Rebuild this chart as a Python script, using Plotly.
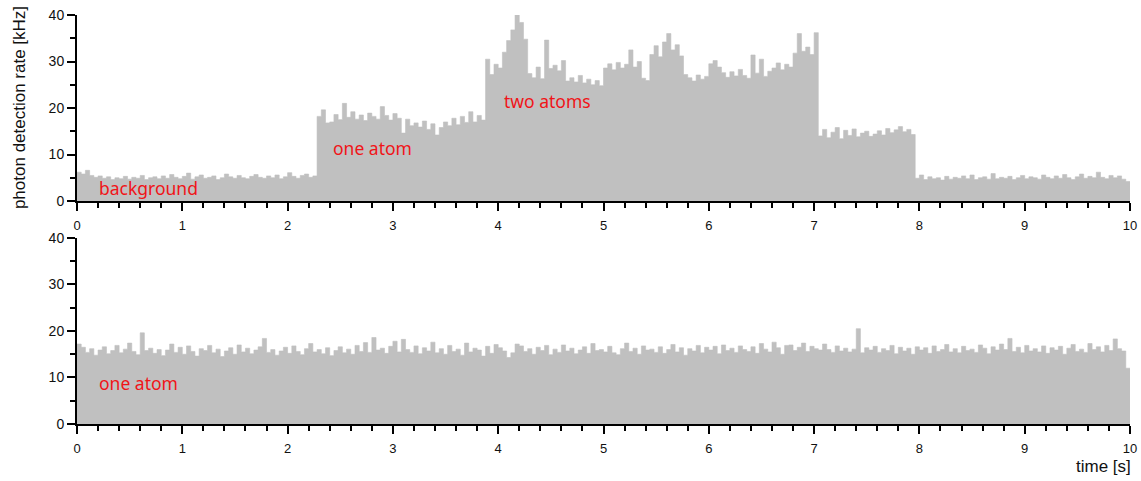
import plotly.graph_objects as go
from plotly.subplots import make_subplots

# photon detection rate [kHz], consecutive 40 ms bins from 0 to 10 s
rate_top = [
    6.2, 5.8, 6.6, 5.5, 5.1, 5.4, 4.9, 5.2, 4.6, 5.0,
    4.8, 5.3, 4.7, 5.1, 4.9, 5.5, 4.6, 5.0, 5.2, 4.8,
    5.4, 4.9, 5.7, 5.1, 4.8, 5.3, 6.0, 4.7, 5.2, 5.6,
    4.9, 5.1, 5.4, 4.6, 5.0, 5.8, 5.2, 4.9, 5.5, 5.0,
    4.8, 5.3, 5.7, 5.1, 4.9, 5.4, 5.0, 5.6, 4.8, 5.2,
    6.1, 5.3, 4.9, 5.5, 5.8, 5.1, 5.4, 18.2, 19.6, 16.8,
    17.0, 18.6, 17.5, 21.0, 18.0, 19.2, 17.6, 18.5, 17.3, 18.9,
    18.2, 17.6, 20.3, 18.4, 17.4, 18.8, 17.8, 14.6, 17.6, 16.2,
    16.8, 15.9, 17.2, 15.4, 16.6, 14.2, 15.8, 17.0, 16.2, 17.8,
    16.4, 18.2, 16.9, 19.2, 17.0, 18.4, 17.4, 30.5, 27.2, 29.4,
    28.6, 32.0, 34.5, 36.8, 40.5, 38.4, 34.8, 27.4, 26.5, 28.8,
    26.3, 34.6, 28.5, 29.2, 28.0, 30.2, 25.8, 26.5, 25.6, 27.0,
    25.4, 26.2, 25.0, 25.9, 24.8, 28.6, 29.5, 28.2, 29.8, 28.6,
    29.4, 32.5, 28.8, 30.0, 26.4, 25.9, 31.5, 33.4, 31.0, 34.2,
    36.0, 32.5, 33.6, 31.2, 27.2, 26.5, 25.8, 27.1, 26.2, 26.8,
    29.5, 30.2, 28.8, 27.6, 26.6, 27.8, 26.9, 28.3, 27.0, 26.4,
    31.4, 27.5, 30.5, 26.8, 27.9, 28.6, 29.7, 28.2, 29.4, 28.8,
    31.8, 36.0, 32.2, 33.1, 31.5, 36.2, 14.0, 15.4, 13.6, 14.8,
    15.8, 13.4, 15.2, 14.1, 15.5, 13.8, 14.6, 15.0, 13.9, 14.4,
    15.1, 14.2, 15.6, 14.7, 15.3, 16.0, 14.9, 15.4, 14.3, 4.9,
    5.6, 4.6, 5.2, 4.8, 5.0, 4.5, 5.3, 4.7, 5.1, 4.9,
    5.4, 4.8, 5.6, 4.6, 5.0, 5.2, 4.7, 5.9, 4.8, 5.1,
    4.9, 5.3, 4.6, 5.0, 5.5, 4.8, 5.2, 5.0, 4.7, 5.6,
    5.1, 4.8, 5.4, 4.9, 5.7, 5.0, 4.6, 5.2, 5.8, 4.9,
    5.3, 5.0, 6.2, 5.1, 4.8, 5.5, 5.0, 5.4, 4.7, 4.2,
]

rate_bottom = [
    17.2, 16.5, 15.4, 16.2, 14.8, 15.9, 16.6, 15.1, 15.8, 16.9,
    15.3, 16.1, 17.4, 15.6, 14.9, 19.6, 15.8, 16.3, 15.2, 16.0,
    14.7, 15.9, 17.2, 15.4, 16.5, 15.0, 16.8, 15.6, 14.6, 16.2,
    15.8, 16.9, 15.3, 16.1, 14.5, 15.7, 16.4, 15.0, 17.0, 15.5,
    16.3, 15.1, 15.9, 16.6, 18.4, 15.4, 16.0, 14.8, 15.7, 16.5,
    15.2, 16.8, 15.6, 14.9, 16.2, 17.3, 15.5, 16.0, 15.1, 16.4,
    14.7, 15.8, 16.6, 15.3, 16.1, 15.0, 16.9, 15.6, 17.5, 15.4,
    18.6, 15.9, 16.3, 15.2, 16.7, 17.8, 15.5, 18.2, 16.0, 15.4,
    16.8, 15.1, 16.4, 15.7, 17.6, 15.3, 16.2, 15.0, 16.9, 15.6,
    16.1, 14.8, 17.4, 15.5, 16.3, 15.9, 14.6, 16.7, 15.2, 17.1,
    16.4, 15.7, 14.3, 15.3, 17.2, 16.8, 15.6, 16.2, 15.0, 16.5,
    15.8, 16.9, 14.9, 16.1, 15.4, 17.0, 15.7, 16.3, 15.1, 15.9,
    16.6, 15.2, 17.3, 15.8, 16.0, 15.5, 16.7, 15.3, 14.9, 16.2,
    17.4, 15.6, 16.3, 15.0, 16.8, 15.9, 16.1, 15.4, 16.6, 15.2,
    16.0, 17.1, 15.5, 16.4, 14.8, 16.2, 15.7, 16.9, 15.3, 16.5,
    15.9, 16.7, 15.1, 17.0, 15.8, 16.3, 15.4, 16.8, 16.0, 15.6,
    16.6, 15.2, 17.3, 16.1, 15.5, 17.6, 16.4, 15.0, 16.9, 17.0,
    15.8, 16.5, 17.4, 15.6, 16.7, 16.2, 15.9, 17.2, 16.0, 15.4,
    16.8, 15.7, 16.3, 15.5, 16.1, 20.5, 15.3, 16.4, 15.9, 16.7,
    15.4, 16.2, 15.8, 16.9, 15.1, 16.5, 15.7, 16.3, 15.0, 16.6,
    15.9, 16.4, 15.2, 16.8, 15.6, 16.0, 17.1, 15.5, 16.2, 15.3,
    16.7, 15.8, 16.1, 15.4, 17.0, 16.3, 15.1, 16.6, 15.9, 17.2,
    16.0, 18.4, 15.6, 16.5, 15.3, 16.9, 15.7, 16.2, 15.5, 16.8,
    15.2, 16.4, 15.9, 16.7, 15.0, 16.3, 17.1, 15.6, 16.1, 15.4,
    17.3, 16.0, 16.6, 15.5, 16.9, 15.8, 18.3, 16.2, 15.7, 12.0,
]

T_TOTAL = 10.0
labels_top = [("background", 0.19, 2.8), ("one atom", 2.41, 11.4), ("two atoms", 4.04, 21.5)]
labels_bottom = [("one atom", 0.19, 8.8)]

GRAY = "#c0c0c0"
RED = "#f01418"
XTICKFONT = dict(family="Liberation Sans, Arial", size=13, color="#111")
YTICKFONT = dict(family="Liberation Sans, Arial", size=14, color="#111")


def step_xy(vals):
    w = T_TOTAL / len(vals)
    xs = [i * w for i in range(len(vals))] + [T_TOTAL]
    ys = list(vals) + [vals[-1]]
    return xs, ys


fig = make_subplots(rows=2, cols=1, vertical_spacing=0.0904)

for r, vals in ((1, rate_top), (2, rate_bottom)):
    xs, ys = step_xy(vals)
    fig.add_trace(go.Scatter(x=xs, y=ys, mode="lines", line_shape="hv",
                             line=dict(color=GRAY, width=0.6), fill="tozeroy",
                             fillcolor=GRAY, hoverinfo="skip", showlegend=False),
                  row=r, col=1)

axis_common = dict(showline=True, linecolor="black", linewidth=2, ticks="outside",
                   tickcolor="black", tickwidth=2, ticklen=8, showgrid=False,
                   zeroline=False, automargin=False)

for r in (1, 2):
    fig.update_xaxes(range=[0, 10], dtick=1, tick0=0, tickfont=XTICKFONT,
                     ticklabelstandoff=3,
                     minor=dict(dtick=0.2, ticks="outside", ticklen=5, tickwidth=2,
                                tickcolor="black", showgrid=False),
                     **axis_common, row=r, col=1)
    fig.update_yaxes(range=[0, 40], dtick=10, tick0=0, tickfont=YTICKFONT,
                     minor=dict(dtick=5, ticks="outside", ticklen=5, tickwidth=2,
                                tickcolor="black", showgrid=False),
                     **axis_common, row=r, col=1)

fig.update_yaxes(domain=[0.5452, 1.0], row=1, col=1)
fig.update_yaxes(domain=[0.0, 0.4548], row=2, col=1)

LABELFONT = dict(family="Noto Sans, Open Sans", size=17.5, color=RED)
annos = []
for txt, x, y in labels_top:
    annos.append(dict(text=txt, x=x, y=y, xref="x", yref="y", xanchor="left",
                      yanchor="middle", showarrow=False, font=LABELFONT))
for txt, x, y in labels_bottom:
    annos.append(dict(text=txt, x=x, y=y, xref="x2", yref="y2", xanchor="left",
                      yanchor="middle", showarrow=False, font=LABELFONT))
annos.append(dict(text="photon detection rate [kHz]", x=-0.055, y=0.7726,
                  xref="paper", yref="paper", textangle=-90, showarrow=False,
                  xanchor="center", yanchor="middle",
                  font=dict(family="Liberation Sans, Arial", size=17, color="#111")))
annos.append(dict(text="time [s]", x=1.003, y=-0.103, xref="paper", yref="paper",
                  showarrow=False, xanchor="right", yanchor="middle",
                  font=dict(family="Liberation Sans, Arial", size=17, color="#111")))

fig.update_layout(width=1141, height=481, margin=dict(l=77, r=11, t=15, b=57),
                  paper_bgcolor="white", plot_bgcolor="white", annotations=annos)

fig.write_html("out.html")
